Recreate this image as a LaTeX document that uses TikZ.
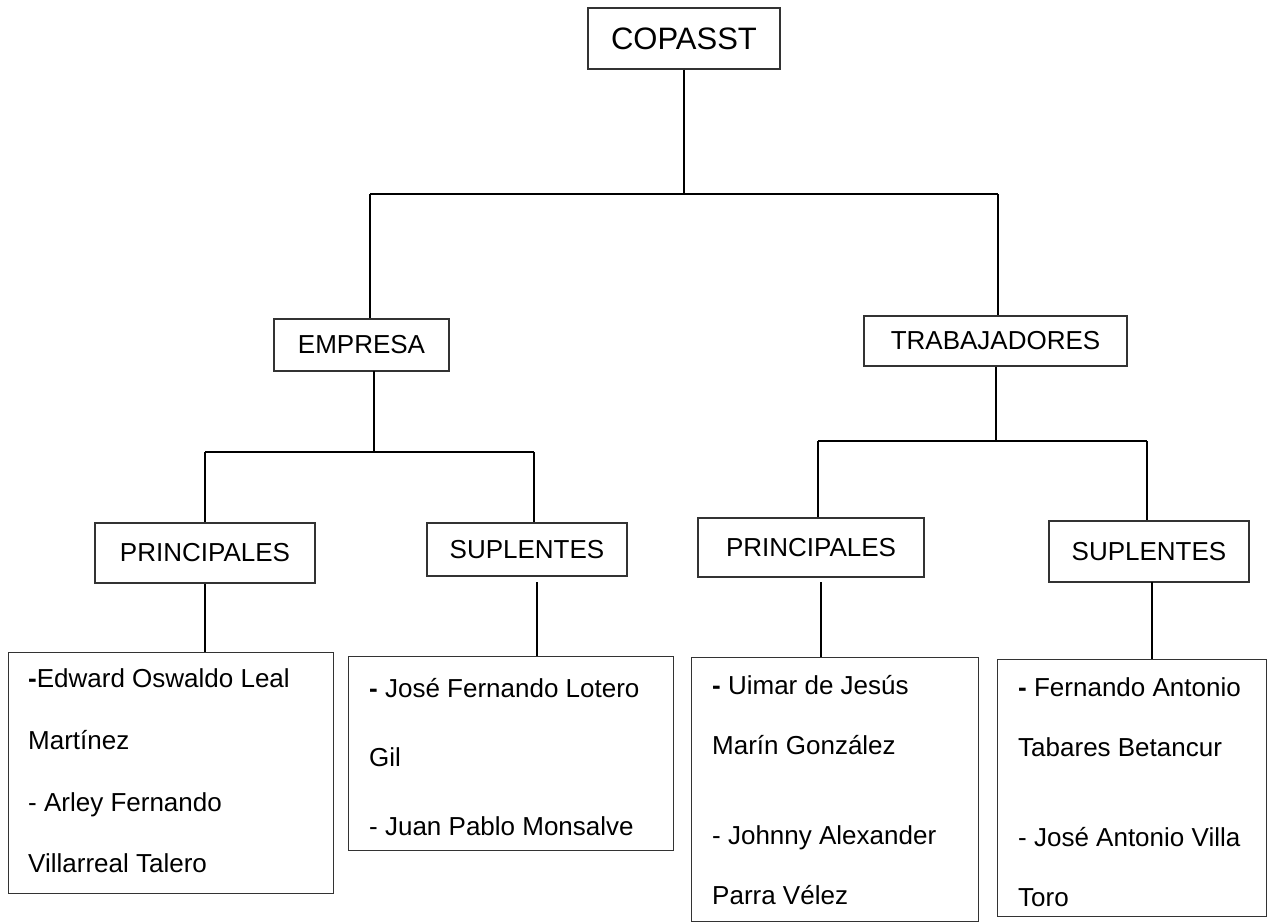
\documentclass[tikz,border=0pt]{standalone}
\usepackage{fontspec}
\setmainfont{Liberation Sans}
\begin{document}
\begin{tikzpicture}[x=1pt,y=-1pt,
  lbl/.style={draw=black!80, line width=1.2pt, inner sep=0pt, font=\fontsize{26}{31}\selectfont},
  conn/.style={line width=2pt, black},
  nm/.style={anchor=base west, inner sep=0pt, font=\fontsize{26}{31}\selectfont},
  namebox/.style={draw=black!80, line width=1.2pt, inner sep=0pt, anchor=north west}]
\useasboundingbox (0,0) rectangle (1272,922);
% label boxes
\node[lbl, minimum width=192pt, minimum height=61pt, font=\fontsize{31}{37}\selectfont] (cop) at (684,38.5) {COPASST};
\node[lbl, minimum width=175pt, minimum height=52pt] (emp) at (361.5,345) {EMPRESA};
\node[lbl, minimum width=263pt, minimum height=50pt] (trab) at (995.5,341) {TRABAJADORES};
\node[lbl, minimum width=220pt, minimum height=60pt] (pl) at (205,553) {PRINCIPALES};
\node[lbl, minimum width=200pt, minimum height=53pt] (sl) at (527,549.5) {SUPLENTES};
\node[lbl, minimum width=226pt, minimum height=59pt] (pr) at (811,547.5) {PRINCIPALES};
\node[lbl, minimum width=200pt, minimum height=61pt] (sr) at (1149,551.5) {SUPLENTES};
% name boxes
\node[namebox, minimum width=325pt, minimum height=241pt] (b1) at (8,652) {};
\node[namebox, minimum width=325pt, minimum height=194pt] (b2) at (348,656) {};
\node[namebox, minimum width=287pt, minimum height=264pt] (b3) at (691,657) {};
\node[namebox, minimum width=269pt, minimum height=257pt] (b4) at (997,659) {};
% names
\node[nm] (b1a) at (28,687) {\textbf{-}Edward Oswaldo Leal};
\node[nm] (b1b) at (28,749) {Martínez};
\node[nm] (b1c) at (28,811) {- Arley Fernando};
\node[nm] (b1d) at (28,872) {Villarreal Talero};
\node[nm] (b2a) at (369,697) {\textbf{-} José Fernando Lotero};
\node[nm] (b2b) at (369,766) {Gil};
\node[nm] (b2c) at (369,835) {- Juan Pablo Monsalve};
\node[nm] (b3a) at (712,694) {\textbf{-} Uimar de Jesús};
\node[nm] (b3b) at (712,754) {Marín González};
\node[nm] (b3c) at (712,844) {- Johnny Alexander};
\node[nm] (b3d) at (712,904) {Parra Vélez};
\node[nm] (b4a) at (1018,696) {\textbf{-} Fernando Antonio};
\node[nm] (b4b) at (1018,756) {Tabares Betancur};
\node[nm] (b4c) at (1018,846) {- José Antonio Villa};
\node[nm] (b4d) at (1018,906) {Toro};
% junction coordinates
\coordinate (j1l) at (370,194);
\coordinate (j1r) at (998,194);
\coordinate (j2l) at (205,452);
\coordinate (j2r) at (534,452);
\coordinate (j3l) at (818,441);
\coordinate (j3r) at (1147,441);
\coordinate (e1) at (374,371);
\coordinate (s1) at (537,582);
\coordinate (p2) at (821,582);
\coordinate (s2) at (1152,582);
% connectors
\draw[conn] (cop.south) -- (cop.south |- j1l);
\draw[conn] (j1l) -- (j1r);
\draw[conn] (j1l) -- (j1l |- emp.north);
\draw[conn] (j1r) -- (j1r |- trab.north);
\draw[conn] (e1) -- (e1 |- j2l);
\draw[conn] (j2l) -- (j2r);
\draw[conn] (j2l) -- (pl.north);
\draw[conn] (j2r) -- (j2r |- sl.north);
\draw[conn] (pl.south) -- (pl.south |- b1.north);
\draw[conn] (s1) -- (s1 |- b2.north);
\draw[conn] (trab.south) -- (trab.south |- j3l);
\draw[conn] (j3l) -- (j3r);
\draw[conn] (j3l) -- (j3l |- pr.north);
\draw[conn] (j3r) -- (j3r |- sr.north);
\draw[conn] (p2) -- (p2 |- b3.north);
\draw[conn] (s2) -- (s2 |- b4.north);
\end{tikzpicture}
\end{document}
